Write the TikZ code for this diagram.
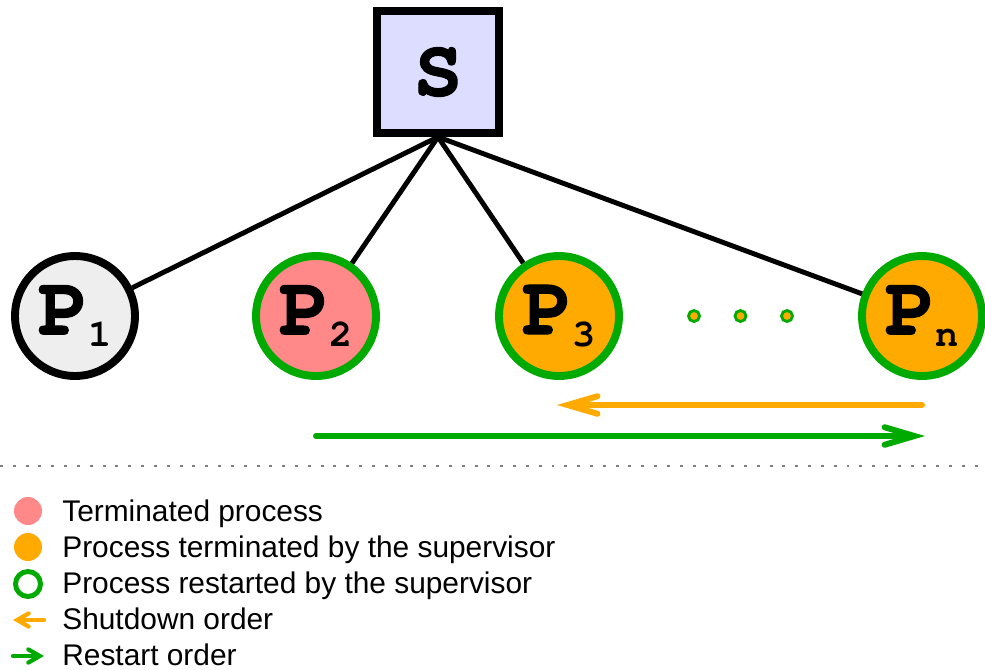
\documentclass[tikz,border=0pt]{standalone}
\usepackage{fontspec}
\setmainfont{Liberation Sans}
\newfontfamily\codefont{texgyrecursor-bold}[Extension=.otf, FakeBold=1.2]
\newfontfamily\subfont{texgyrecursor-bold}[Extension=.otf]
\usetikzlibrary{arrows.meta}
\definecolor{supfill}{HTML}{DDDDFF}
\definecolor{idlegray}{HTML}{EEEEEE}
\definecolor{deadred}{HTML}{FF8888}
\definecolor{killorange}{HTML}{FFAA00}
\definecolor{restartgreen}{HTML}{00AA00}
\newcommand{\procname}[1]{P\raisebox{-7pt}{\subfont\fontsize{22}{22}\selectfont #1}}

\begin{document}
\begin{tikzpicture}[x=0.02cm, y=-0.02cm,
  sup/.style={draw, line width=4.5pt, fill=supfill, minimum size=2.44cm, inner sep=0pt,
    font=\codefont\fontsize{46}{46}\selectfont},
  proc/.style={circle, draw=restartgreen, line width=4.5pt, minimum size=2.4cm, inner sep=0pt,
    font=\codefont\fontsize{48}{48}\selectfont},
  link/.style={line width=2.8pt},
  order/.style={line width=3.4pt, line cap=round,
    -{Straight Barb[length=17pt, width=10pt, line cap=round]}},
  keyorder/.style={line width=2.4pt, line cap=round,
    -{Straight Barb[length=6.5pt, width=7.5pt, line cap=round]}},
  keytext/.style={anchor=base west, font=\fontsize{17}{17}\selectfont, inner sep=0pt}]
\useasboundingbox (0,0) rectangle (985,670);
% supervisor and its children
\node[sup] (s) at (438,72) {S};
\node[proc, draw=black, fill=idlegray] (p1) at (75,316) {\procname{1}};
\node[proc, fill=deadred] (p2) at (316,316) {\procname{2}};
\node[proc, fill=killorange] (p3) at (559,316) {\procname{3}};
\node[proc, fill=killorange] (pn) at (922,316) {\procname{n}};
\foreach \x in {694,740.5,787}
  \node[circle, draw=restartgreen, fill=killorange, line width=1.6pt,
    minimum size=0.22cm, inner sep=0pt] at (\x,316) {};
\draw[link] (s.south) -- (p1);
\draw[link] (s.south) -- (p2);
\draw[link] (s.south) -- (p3);
\draw[link] (s.south) -- (pn);
% shutdown / restart order
\coordinate (shutfrom) at (922,405);
\coordinate (shutto) at (557,405);
\coordinate (startfrom) at (316,436);
\coordinate (startto) at (925,436);
\draw[order, killorange] (shutfrom) -- (shutto);
\draw[order, restartgreen] (startfrom) -- (startto);
% separator
\coordinate (sepl) at (0,466);
\coordinate (sepr) at (985,466);
\draw[gray, line width=0.6pt, dash pattern=on 1.7pt off 5.6pt] (sepl) -- (sepr);
% legend
\node[circle, fill=deadred, minimum size=0.56cm, inner sep=0pt] (keydead) at (28,511) {};
\node[circle, fill=killorange, minimum size=0.56cm, inner sep=0pt] (keykill) at (28,547) {};
\node[circle, draw=restartgreen, line width=2.8pt, minimum size=0.5cm, inner sep=0pt] (keyrestart) at (28,584) {};
\coordinate (keyshutfrom) at (44,620);
\coordinate (keyshutto) at (13,620);
\coordinate (keystartfrom) at (13,656);
\coordinate (keystartto) at (44,656);
\draw[keyorder, killorange] (keyshutfrom) -- (keyshutto);
\draw[keyorder, restartgreen] (keystartfrom) -- (keystartto);
\node[keytext] (deadtext) at (62,521.5) {Terminated process};
\node[keytext] (killtext) at (62,557.5) {Process terminated by the supervisor};
\node[keytext] (restarttext) at (62,593.5) {Process restarted by the supervisor};
\node[keytext] (shuttext) at (62,629) {Shutdown order};
\node[keytext] (starttext) at (62,665) {Restart order};
\end{tikzpicture}
\end{document}
